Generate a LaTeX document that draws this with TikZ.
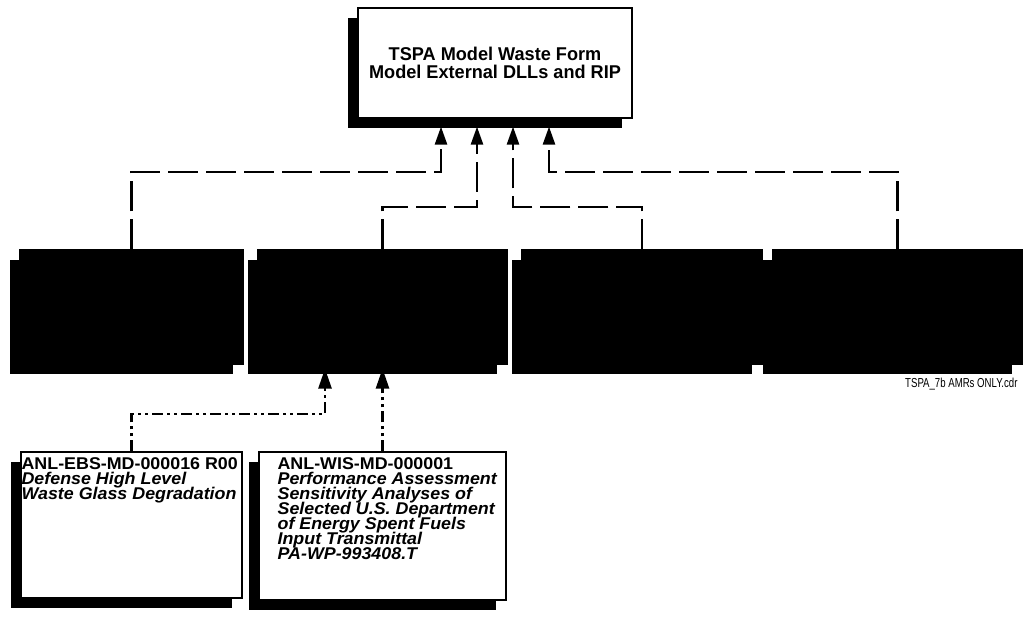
\documentclass[tikz,border=0pt]{standalone}
\usepackage{fontspec}
\setmainfont{Liberation Sans}
\newfontfamily\titlefont[FakeStretch=0.98]{Liberation Sans}
\newfontfamily\docfont[FakeStretch=1.05]{Liberation Sans}
\newfontfamily\cdrfont[FakeStretch=0.74]{Liberation Sans}
\usetikzlibrary{positioning,arrows.meta,shadows}

\tikzset{
  shadowbox/.style={rectangle,draw=black,line width=1.2pt,inner sep=0pt,
    drop shadow={shadow xshift=-10pt,shadow yshift=-10pt,fill=black,opacity=1}},
  whitebox/.style={shadowbox,fill=white},
  blackbox/.style={shadowbox,fill=black,minimum height=114pt},
  doctext/.style={anchor=north west,inner sep=0pt,align=left,
    font={\docfont\bfseries\fontsize{17pt}{15pt}\selectfont\lineskiplimit=-20pt}},
  feed/.style={line width=2.4pt,dash pattern=on 30pt off 8pt,
    -{Triangle[length=18pt,width=12pt]}},
  doclink/.style={line width=2.6pt,
    dash pattern=on 11pt off 4pt on 3pt off 4pt on 3pt off 4pt,
    -{Triangle[length=20pt,width=13pt]}},
}
\newcommand{\docital}[1]{{\itshape #1}}

\begin{document}
\begin{tikzpicture}[x=1pt,y=-1pt]
  \useasboundingbox (0,0) rectangle (1024,616);
  % waste form model on top
  \node[whitebox,minimum width=274pt,minimum height=110pt,align=center,
    font={\titlefont\bfseries\fontsize{18.5pt}{17.5pt}\selectfont\lineskiplimit=-20pt}] (wf) at (495,63)
    {TSPA Model Waste Form\\Model External DLLs and RIP};
  % middle row
  \node[blackbox,minimum width=223pt] (m1) at (131.5,307) {};
  \node[blackbox,minimum width=249pt] (m2) at (382.5,307) {};
  \node[blackbox,minimum width=240pt] (m3) at (642,307) {};
  \node[blackbox,minimum width=249pt] (m4) at (897.5,307) {};
  \node[anchor=east,font={\cdrfont\fontsize{13pt}{15pt}\selectfont}] (cdr) at (1021,384) {TSPA\_7b AMRs ONLY.cdr};
  % source documents
  \node[whitebox,minimum width=221pt,minimum height=146pt] (b1) at (131.5,525) {};
  \node[whitebox,minimum width=247pt,minimum height=148pt] (b2) at (382.5,526) {};
  \node[doctext] (t1) at ([xshift=1pt,yshift=-6pt]b1.north west)
    {ANL-EBS-MD-000016 R00\\\docital{Defense High Level}\\\docital{Waste Glass Degradation}};
  \node[doctext] (t2) at ([xshift=19pt,yshift=-6pt]b2.north west)
    {ANL-WIS-MD-000001\\\docital{Performance Assessment}\\\docital{Sensitivity Analyses of}\\\docital{Selected U.S. Department}\\\docital{of Energy Spent Fuels}\\\docital{Input Transmittal}\\\docital{PA-WP-993408.T}};
  % connectors
  \coordinate (hiA) at (0,172);
  \coordinate (hiB) at (0,207);
  \coordinate (loA) at (0,414);
  \coordinate (in1) at ([xshift=-54pt,yshift=-8pt]wf.south);
  \coordinate (in2) at ([xshift=-18pt,yshift=-8pt]wf.south);
  \coordinate (in3) at ([xshift=18pt,yshift=-8pt]wf.south);
  \coordinate (in4) at ([xshift=54pt,yshift=-8pt]wf.south);
  \coordinate (up1) at ([xshift=-57.5pt,yshift=-4pt]m2.south);
  \coordinate (up2) at ([yshift=-4pt]m2.south);
  \draw[feed] (m1.north) -- (m1.north |- hiA) -| (in1);
  \draw[feed] (m2.north) -- (m2.north |- hiB) -| (in2);
  \draw[feed] (m3.north) -- (m3.north |- hiB) -| (in3);
  \draw[feed] (m4.north) -- (m4.north |- hiA) -| (in4);
  \draw[doclink] (b1.north) -- (b1.north |- loA) -| (up1);
  \draw[doclink] (b2.north) -- (up2);
\end{tikzpicture}
\end{document}
